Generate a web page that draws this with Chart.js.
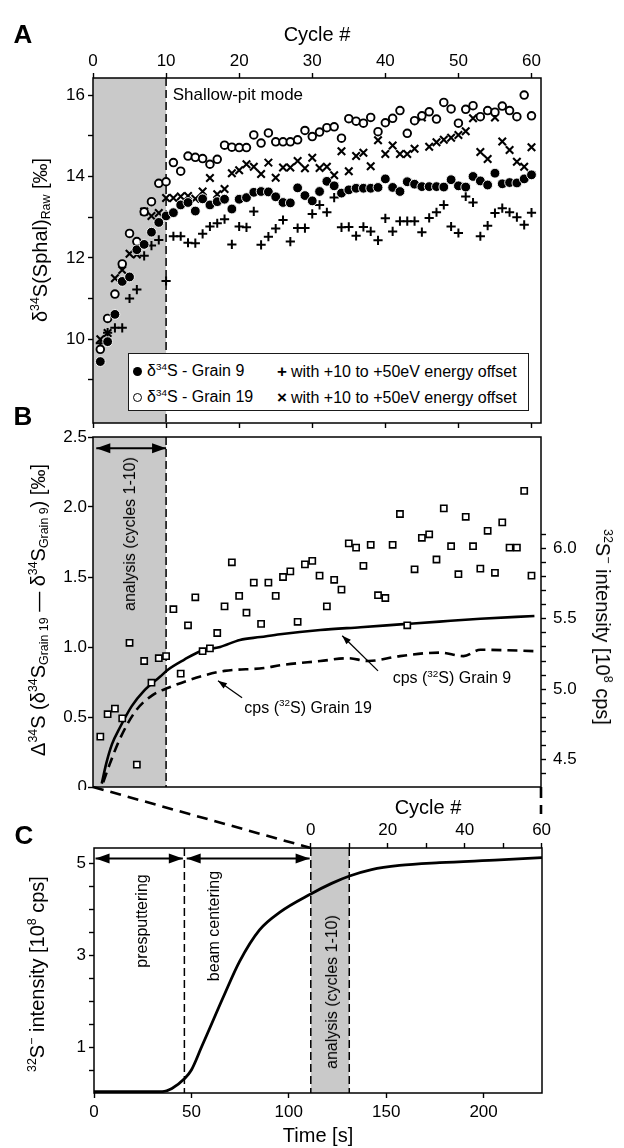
<!DOCTYPE html>
<html>
<head>
<meta charset="UTF-8">
<title>Sulfur isotope drift – shallow-pit mode</title>
<script src="https://cdn.jsdelivr.net/npm/chart.js"></script>
<style>
  body { margin: 0; background: #fff; }
  #fig { position: relative; width: 624px; height: 1148px; overflow: hidden;
         font-family: "Liberation Sans", Arial, Helvetica, sans-serif; color: #000; }
  #fig canvas { position: absolute; left: 0; }
  .lbl { position: absolute; white-space: nowrap; line-height: 1; }
  .panel { font-size: 26px; font-weight: bold; }
  .axt { font-size: 20px; }
  .note { font-size: 16px; }
  .sup { font-size: 0.62em; position: relative; top: -0.62em; }
  .sub { font-size: 0.62em; position: relative; top: 0.28em; }
  #legA { position: absolute; left: 128px; top: 353px; width: 401px; height: 58px;
          border: 1.5px solid #1a1a1a; background: #fff; box-sizing: border-box; font-size: 16px; }
  .li { position: absolute; white-space: nowrap; line-height: 1; transform: translateY(-50%); }
  .mk { display: inline-block; box-sizing: border-box; vertical-align: middle; margin-right: 5px; }
  .dot { width: 9px; height: 9px; border-radius: 50%; background: #000; }
  .ring { width: 9px; height: 9px; border-radius: 50%; border: 1.8px solid #000; }
  .sym { font-weight: bold; font-size: 17px; margin-right: 4px; }
</style>
</head>
<body>
<div id="fig">
  <canvas id="chartA" width="624" height="430" style="top:0"></canvas>
  <canvas id="chartB" width="624" height="360" style="top:430px"></canvas>
  <canvas id="chartC" width="624" height="358" style="top:790px"></canvas>
  <canvas id="links" width="624" height="1148" style="top:0;pointer-events:none"></canvas>

  <div class="lbl panel" id="panelA">A</div>
  <div class="lbl panel" id="panelB">B</div>
  <div class="lbl panel" id="panelC">C</div>

  <!-- panel A -->
  <div class="lbl axt" id="aTop">Cycle #</div>
  <div class="lbl axt" id="aLeft">δ<span class="sup">34</span>S(Sphal)<span class="sub">Raw</span> [‰]</div>
  <div class="lbl" id="aMode" style="font-size:17px">Shallow-pit mode</div>
  <div id="legA">
    <div class="li" style="left:4px;top:17px"><span class="mk dot"></span>δ<span class="sup">34</span>S - Grain 9</div>
    <div class="li" style="left:4px;top:43px"><span class="mk ring"></span>δ<span class="sup">34</span>S - Grain 19</div>
    <div class="li" style="left:148px;top:17px"><span class="sym">+</span>with +10 to +50eV energy offset</div>
    <div class="li" style="left:148px;top:43px"><span class="sym">×</span>with +10 to +50eV energy offset</div>
  </div>

  <!-- panel B -->
  <div class="lbl axt" id="bLeft">Δ<span class="sup">34</span>S (δ<span class="sup">34</span>S<span class="sub">Grain 19</span> — δ<span class="sup">34</span>S<span class="sub">Grain 9</span>) [‰]</div>
  <div class="lbl axt" id="bRight"><span class="sup">32</span>S<span class="sup">−</span> intensity [10<span class="sup">8</span> cps]</div>
  <div class="lbl note" id="bAnalysis">analysis (cycles 1-10)</div>
  <div class="lbl note" id="bCps9">cps (<span class="sup">32</span>S) Grain 9</div>
  <div class="lbl note" id="bCps19">cps (<span class="sup">32</span>S) Grain 19</div>

  <!-- panel C -->
  <div class="lbl axt" id="cTop">Cycle #</div>
  <div class="lbl axt" id="cLeft"><span class="sup">32</span>S<span class="sup">−</span> intensity [10<span class="sup">8</span> cps]</div>
  <div class="lbl axt" id="cBottom">Time [s]</div>
  <div class="lbl note" id="cPre">presputtering</div>
  <div class="lbl note" id="cBeam">beam centering</div>
  <div class="lbl note" id="cAnalysis">analysis (cycles 1-10)</div>
</div>

<script>
// ---------- data ----------
const cycles = [1, 2, 3, 4, 5, 6, 7, 8, 9, 10, 11, 12, 13, 14, 15, 16, 17, 18, 19, 20,
                21, 22, 23, 24, 25, 26, 27, 28, 29, 30, 31, 32, 33, 34, 35, 36, 37, 38, 39, 40,
                41, 42, 43, 44, 45, 46, 47, 48, 49, 50, 51, 52, 53, 54, 55, 56, 57, 58, 59, 60];

// panel A: d34S raw (permil)
const grain9 = [9.45, 9.94, 10.61, 11.42, 11.53, 12.2, 12.33, 12.63, 12.87, 13.03,
                13.11, 13.30, 13.36, 13.15, 13.45, 13.30, 13.38, 13.44, 13.20, 13.44,
                13.48, 13.61, 13.63, 13.62, 13.50, 13.36, 13.35, 13.72, 13.53, 13.40,
                13.63, 13.88, 13.77, 13.59, 13.67, 13.71, 13.71, 13.71, 13.73, 13.94,
                13.73, 13.63, 13.87, 13.81, 13.75, 13.75, 13.75, 13.74, 13.92, 13.77,
                13.74, 14.00, 13.89, 13.79, 14.08, 13.82, 13.85, 13.84, 13.94, 14.04];
const grain19 = [9.75, 10.51, 11.11, 11.85, 12.6, 12.4, 13.13, 13.38, 13.83, 13.87,
                 14.34, 14.13, 14.5, 14.47, 14.44, 14.3, 14.42, 14.77, 14.72, 14.71,
                 14.71, 15.02, 14.82, 15.07, 14.85, 14.85, 14.85, 14.9, 15.13, 14.98,
                 15.09, 15.2, 15.22, 14.94, 15.42, 15.36, 15.31, 15.45, 15.1, 15.32,
                 15.43, 15.62, 15.06, 15.37, 15.49, 15.59, 15.41, 15.82, 15.66, 15.31,
                 15.65, 15.74, 15.47, 15.62, 15.58, 15.73, 15.62, 15.47, 16.0, 15.49];
const grain9Offset = [9.9, 10.16, 10.28, 10.28, 11.0, 11.22, 12.05, 12.3, 12.44, 11.43,
                      12.53, 12.53, 12.37, 12.36, 12.59, 12.77, 12.85, 12.95, 12.33, 12.77,
                      12.75, 13.14, 12.32, 12.52, 12.72, 12.93, 12.4, 12.73, 12.73, 13.08,
                      13.3, 13.12, 13.48, 12.75, 12.76, 12.54, 12.76, 12.65, 12.43, 12.97,
                      12.65, 12.9, 12.9, 12.9, 12.63, 12.98, 13.12, 13.3, 12.77, 12.61,
                      13.51, 13.36, 12.53, 12.79, 13.1, 13.22, 13.12, 13.0, 12.81, 13.11];
const grain19Offset = [10.0, 10.15, 11.5, 11.7, 12.1, 12.08, 13.14, 13.03, 13.1, 13.47,
                       13.47, 13.51, 13.52, 13.45, 13.63, 13.96, 13.56, 13.69, 14.08, 14.15,
                       14.3, 14.24, 14.06, 14.34, 13.97, 14.22, 14.22, 14.38, 14.2, 14.46,
                       14.21, 14.24, 14.03, 14.62, 14.13, 14.5, 14.58, 14.25, 14.89, 14.55,
                       14.76, 14.55, 14.55, 14.68, 15.45, 14.73, 14.84, 14.9, 14.95, 15.02,
                       15.11, 15.43, 14.6, 14.43, 15.45, 14.86, 14.65, 14.36, 14.24, 14.72];

// panel B: D34S (Grain 19 - Grain 9), permil
const deltaS = [0.36, 0.52, 0.56, 0.49, 1.03, 0.16, 0.90, 0.745, 0.92, 0.935,
                1.27, 0.81, 1.155, 1.355, 0.97, 0.99, 1.10, 1.29, 1.605, 1.365,
                1.245, 1.46, 1.165, 1.46, 1.365, 1.50, 1.54, 1.18, 1.59, 1.615,
                1.51, 1.29, 1.48, 1.41, 1.74, 1.71, 1.58, 1.73, 1.37, 1.35,
                1.73, 1.95, 1.155, 1.555, 1.78, 1.805, 1.625, 1.99, 1.72, 1.52,
                1.93, 1.72, 1.56, 1.83, 1.53, 1.89, 1.71, 1.71, 2.115, 1.51];
// panel B: 32S- count rate (1e8 cps)
const cpsCycles9 = [1.2, 1.8, 2.6, 3.7, 5.3, 7.0, 9.2, 10.3, 12.5, 14.7, 17.4, 20.1, 22.9, 25.6, 31.1, 36.6, 42.0, 47.4, 53.0, 60.4];
const cps9 = [4.33, 4.47, 4.61, 4.73, 4.88, 4.99, 5.09, 5.14, 5.21, 5.27, 5.30, 5.35, 5.37, 5.39, 5.42, 5.44, 5.46, 5.48, 5.50, 5.52];
const cpsCycles19 = [1.4, 2.3, 3.7, 5.9, 8.2, 10.3, 14.7, 18.0, 23.4, 25.6, 31.1, 34.9, 37.7, 42.0, 47.4, 50.7, 53.0, 60.7];
const cps19 = [4.34, 4.47, 4.65, 4.85, 4.96, 5.01, 5.09, 5.13, 5.15, 5.17, 5.20, 5.22, 5.20, 5.235, 5.26, 5.235, 5.28, 5.27];

// panel C: 32S- intensity vs time
const timeS = [0, 35, 40, 46.4, 50, 55.2, 58.3, 66.5, 74.7, 85, 95.3, 111.3, 122, 131.2, 142.5, 156.8, 177.4, 208.2, 230];
const intensity = [0.03, 0.03, 0.1, 0.31, 0.5, 1.0, 1.3, 2.1, 2.86, 3.55, 3.93, 4.33, 4.56, 4.72, 4.86, 4.95, 5.01, 5.07, 5.12];
const presputterEnd = 46.4;     // s
const analysisStart = 111.3;    // s, cycle 0
const secondsPerCycle = 1.975;
const analysisCycles = [0, 10];

// ticks
const aCycleTicks = [0, 10, 20, 30, 40, 50, 60];
const aYTicks = [9, 10, 11, 12, 13, 14, 15, 16];
const aYLabels = [10, 12, 14, 16];
const bYTicks = [0, 0.5, 1, 1.5, 2, 2.5];
const bRightTicks = [4.4, 4.5, 4.6, 4.7, 4.8, 4.9, 5.0, 5.1, 5.2, 5.3, 5.4, 5.5, 5.6, 5.7, 5.8, 5.9, 6.0, 6.1];
const bRightLabels = [4.5, 5.0, 5.5, 6.0];
const cTimeTicks = [0, 50, 100, 150, 200];
const cCycleTicks = [0, 10, 20, 30, 40, 50, 60];
const cCycleLabels = [0, 20, 40, 60];
const cYTicks = [0.5, 1, 1.5, 2, 2.5, 3, 3.5, 4, 4.5, 5];
const cYLabels = [1, 3, 5];

// ---------- helpers ----------
const FONT = '"Liberation Sans", Arial, Helvetica, sans-serif';
const SHADE = '#c9c9c9';
Chart.defaults.font.family = FONT;
Chart.defaults.color = '#000';

function labelIf(list, fmt) {
  return v => list.some(l => Math.abs(l - v) < 1e-6) ? fmt(v) : '';
}

function axis(o) {
  return {
    type: 'linear', position: o.position, min: o.min, max: o.max,
    afterBuildTicks: s => { s.ticks = o.ticks.map(v => ({ value: v })); },
    afterFit: s => {
      if (o.height != null) s.height = o.height;
      if (o.width != null) s.width = o.width;
      // keep edge labels from pushing the plot area around
      s.paddingTop = s.paddingBottom = s.paddingLeft = s.paddingRight = 0;
    },
    border: { display: false },
    grid: { display: o.noTicks ? false : true, drawOnChartArea: false, drawTicks: true,
            tickLength: 5, tickWidth: 1.4, tickColor: '#000' },
    ticks: { display: o.labels !== false, padding: o.padding != null ? o.padding : 3,
             autoSkip: false, maxRotation: 0, minRotation: 0, color: '#000',
             font: { family: FONT, size: 17 }, callback: o.callback || (v => String(v)) }
  };
}

function common(padding) {
  return {
    responsive: false, animation: false, events: [],
    layout: { padding: padding, autoPadding: false },
    plugins: { legend: { display: false }, tooltip: { enabled: false } }
  };
}

function frame(chart) {
  const { ctx, chartArea: a } = chart;
  ctx.save();
  ctx.strokeStyle = '#000'; ctx.lineWidth = 1.5; ctx.setLineDash([]);
  ctx.strokeRect(a.left, a.top, a.right - a.left, a.bottom - a.top);
  ctx.restore();
}

function dashedV(ctx, x, y0, y1) {
  ctx.save();
  ctx.strokeStyle = '#000'; ctx.lineWidth = 1.5; ctx.setLineDash([8, 4]);
  ctx.beginPath(); ctx.moveTo(x, y0); ctx.lineTo(x, y1); ctx.stroke();
  ctx.restore();
}

function arrowHead(ctx, fx, fy, tx, ty, len, half) {
  const a = Math.atan2(ty - fy, tx - fx);
  const bx = tx - len * Math.cos(a), by = ty - len * Math.sin(a);
  ctx.beginPath();
  ctx.moveTo(tx, ty);
  ctx.lineTo(bx + half * Math.sin(a), by - half * Math.cos(a));
  ctx.lineTo(bx - half * Math.sin(a), by + half * Math.cos(a));
  ctx.closePath();
  ctx.fill();
}

function arrow(ctx, x1, y1, x2, y2, both, len, half, lw) {
  ctx.save();
  ctx.strokeStyle = '#000'; ctx.fillStyle = '#000'; ctx.lineWidth = lw; ctx.setLineDash([]);
  ctx.beginPath(); ctx.moveTo(x1, y1); ctx.lineTo(x2, y2); ctx.stroke();
  arrowHead(ctx, x1, y1, x2, y2, len, half);
  if (both) arrowHead(ctx, x2, y2, x1, y1, len, half);
  ctx.restore();
}

function shadeCycles(chart, xs) {
  const { ctx, chartArea: a } = chart;
  const x0 = xs.getPixelForValue(analysisCycles[0]);
  const x1 = xs.getPixelForValue(analysisCycles[1]);
  ctx.save();
  ctx.fillStyle = SHADE;
  ctx.fillRect(x0, a.top, x1 - x0, a.bottom - a.top);
  ctx.restore();
  return [x0, x1];
}

// ---------- panel A ----------
const decorA = {
  id: 'decorA',
  beforeDatasetsDraw(chart) {
    const a = chart.chartArea;
    const [, x10] = shadeCycles(chart, chart.scales.x);
    dashedV(chart.ctx, x10, a.top, a.bottom);
  },
  afterDraw: frame
};

const chartA = new Chart(document.getElementById('chartA'), {
  type: 'scatter',
  data: {
    datasets: [
      { label: 'd34S - Grain 9', data: cycles.map((c, i) => ({ x: c, y: grain9[i] })),
        pointStyle: 'circle', pointRadius: 4.9, pointBackgroundColor: '#000',
        pointBorderColor: '#fff', pointBorderWidth: 0.9 },
      { label: 'd34S - Grain 19', data: cycles.map((c, i) => ({ x: c, y: grain19[i] })),
        pointStyle: 'circle', pointRadius: 3.8, pointBackgroundColor: '#fff',
        pointBorderColor: '#000', pointBorderWidth: 1.9 },
      { label: 'Grain 9 with energy offset', data: cycles.map((c, i) => ({ x: c, y: grain9Offset[i] })),
        pointStyle: 'cross', pointRadius: 4.6, pointBorderColor: '#000', pointBorderWidth: 2 },
      { label: 'Grain 19 with energy offset', data: cycles.map((c, i) => ({ x: c, y: grain19Offset[i] })),
        pointStyle: 'crossRot', pointRadius: 5.3, pointBorderColor: '#000', pointBorderWidth: 2.1 }
    ]
  },
  options: Object.assign(common({ left: 0, right: 83, top: 0, bottom: 0 }), {
    scales: {
      x: axis({ position: 'top', min: 0, max: 61.3, ticks: aCycleTicks, height: 78, padding: 1 }),
      xb: axis({ position: 'bottom', min: 0, max: 61.3, ticks: aCycleTicks, height: 7, labels: false }),
      y: axis({ position: 'left', min: 7.94, max: 16.42, ticks: aYTicks, width: 93, padding: 3,
                callback: labelIf(aYLabels, v => String(v)) })
    }
  }),
  plugins: [decorA]
});

// ---------- panel B ----------
const decorB = {
  id: 'decorB',
  beforeDatasetsDraw(chart) {
    const a = chart.chartArea;
    const [, x10] = shadeCycles(chart, chart.scales.x);
    dashedV(chart.ctx, x10, a.top, a.bottom);
  },
  afterDatasetsDraw(chart) {
    const { ctx, scales: { x, y, y2 } } = chart;
    arrow(ctx, x.getPixelForValue(0.45), y.getPixelForValue(2.42),
               x.getPixelForValue(10), y.getPixelForValue(2.42), true, 14, 5, 2);
    arrow(ctx, x.getPixelForValue(39.0), y2.getPixelForValue(5.13),
               x.getPixelForValue(34.1), y2.getPixelForValue(5.38), false, 9, 3.2, 1.3);
    arrow(ctx, x.getPixelForValue(20.4), y2.getPixelForValue(4.94),
               x.getPixelForValue(17.1), y2.getPixelForValue(5.06), false, 9, 3.2, 1.3);
  },
  afterDraw: frame
};

const chartB = new Chart(document.getElementById('chartB'), {
  type: 'scatter',
  data: {
    datasets: [
      { label: 'D34S', data: cycles.map((c, i) => ({ x: c, y: deltaS[i] })), yAxisID: 'y',
        pointStyle: 'rect', pointRadius: 4.4, pointBackgroundColor: '#fff',
        pointBorderColor: '#000', pointBorderWidth: 1.6 },
      { label: 'cps Grain 9', data: cpsCycles9.map((c, i) => ({ x: c, y: cps9[i] })), yAxisID: 'y2',
        showLine: true, pointRadius: 0, borderColor: '#000', borderWidth: 2.6,
        cubicInterpolationMode: 'monotone' },
      { label: 'cps Grain 19', data: cpsCycles19.map((c, i) => ({ x: c, y: cps19[i] })), yAxisID: 'y2',
        showLine: true, pointRadius: 0, borderColor: '#000', borderWidth: 2.6,
        borderDash: [10, 6], cubicInterpolationMode: 'monotone' }
    ]
  },
  options: Object.assign(common({ left: 0, right: 0, top: 7, bottom: 0 }), {
    scales: {
      x: axis({ position: 'bottom', min: 0, max: 61.3, ticks: [], height: 3, labels: false, noTicks: true }),
      y: axis({ position: 'left', min: 0, max: 2.5, ticks: bYTicks, width: 93, padding: 1,
                callback: v => v === 0 ? '0' : v.toFixed(1) }),
      y2: axis({ position: 'right', min: 4.306, max: 6.79, ticks: bRightTicks, width: 83, padding: 7,
                 callback: labelIf(bRightLabels, v => v.toFixed(1)) })
    }
  }),
  plugins: [decorB]
});

// ---------- panel C ----------
const decorC = {
  id: 'decorC',
  beforeDatasetsDraw(chart) {
    const a = chart.chartArea;
    const [c0, c10] = shadeCycles(chart, chart.scales.x2);
    dashedV(chart.ctx, chart.scales.x.getPixelForValue(presputterEnd), a.top, a.bottom);
    dashedV(chart.ctx, c0, a.top, a.bottom);
    dashedV(chart.ctx, c10, a.top, a.bottom);
  },
  afterDatasetsDraw(chart) {
    const { ctx, scales: { x, y } } = chart;
    const ya = y.getPixelForValue(5.1);
    arrow(ctx, x.getPixelForValue(0.8), ya, x.getPixelForValue(45.6), ya, true, 14, 5, 2);
    arrow(ctx, x.getPixelForValue(47.6), ya, x.getPixelForValue(110.7), ya, true, 14, 5, 2);
  },
  afterDraw: frame
};

const chartC = new Chart(document.getElementById('chartC'), {
  type: 'scatter',
  data: {
    datasets: [
      { label: '32S intensity', data: timeS.map((t, i) => ({ x: t, y: intensity[i] })),
        showLine: true, pointRadius: 0, borderColor: '#000', borderWidth: 2.8,
        cubicInterpolationMode: 'monotone' }
    ]
  },
  options: Object.assign(common({ left: 0, right: 82, top: 0, bottom: 0 }), {
    scales: {
      x: axis({ position: 'bottom', min: 0, max: 230, ticks: cTimeTicks, height: 55, padding: 4 }),
      x2: axis({ position: 'top', min: -analysisStart / secondsPerCycle,
                 max: (230 - analysisStart) / secondsPerCycle, ticks: cCycleTicks, height: 58, padding: 2,
                 callback: labelIf(cCycleLabels, v => String(v)) }),
      y: axis({ position: 'left', min: 0, max: 5.33, ticks: cYTicks, width: 94, padding: 3,
                callback: labelIf(cYLabels, v => String(v)) })
    }
  }),
  plugins: [decorC]
});

// ---------- zoom connectors between B and C ----------
(function () {
  const ctx = document.getElementById('links').getContext('2d');
  const bTop = 430, cTop = 790;
  const bx0 = chartB.scales.x.getPixelForValue(0);
  const by = bTop + chartB.chartArea.bottom;
  const cx0 = chartC.scales.x2.getPixelForValue(0);
  const cy = cTop + chartC.chartArea.top;
  ctx.strokeStyle = '#000'; ctx.lineWidth = 2.6; ctx.setLineDash([11, 7]);
  ctx.beginPath(); ctx.moveTo(bx0, by); ctx.lineTo(cx0, cy); ctx.stroke();
  const bxr = chartB.chartArea.right;
  ctx.beginPath(); ctx.moveTo(bxr, by); ctx.lineTo(bxr, cTop + 24); ctx.stroke();
})();

// ---------- text placement ----------
function put(id, x, y, rot, anchor) {
  const el = document.getElementById(id);
  el.style.left = x + 'px';
  el.style.top = y + 'px';
  el.style.transform = 'translate(' + (anchor === 'left' ? '0' : '-50%') + ',-50%)' +
                       (rot ? ' rotate(' + rot + 'deg)' : '');
}

put('panelA', 23, 34);
put('panelB', 23, 416);
put('panelC', 24, 835);

const SA = chartA.scales;
put('aTop', 317, 34);
put('aLeft', 40, 240, -90);
put('aMode', SA.x.getPixelForValue(10.9), SA.y.getPixelForValue(16.03), 0, 'left');

const SB = chartB.scales;
put('bLeft', 38, 610, -90);
put('bRight', 603, 627, 90);
put('bAnalysis', SB.x.getPixelForValue(5.1), 430 + SB.y.getPixelForValue(1.805), -90);
put('bCps9', SB.x.getPixelForValue(41), 430 + SB.y2.getPixelForValue(5.08), 0, 'left');
put('bCps19', SB.x.getPixelForValue(20.7), 430 + SB.y2.getPixelForValue(4.87), 0, 'left');

const SC = chartC.scales;
put('cTop', 428, 807);
put('cLeft', 37, 974, -90);
put('cBottom', 318, 1135);
put('cPre', SC.x.getPixelForValue(24.4), 790 + SC.y.getPixelForValue(3.75), -90);
put('cBeam', SC.x.getPixelForValue(61.8), 790 + SC.y.getPixelForValue(3.64), -90);
put('cAnalysis', SC.x2.getPixelForValue(5.4), 790 + SC.y.getPixelForValue(2.2), -90);
</script>
</body>
</html>
